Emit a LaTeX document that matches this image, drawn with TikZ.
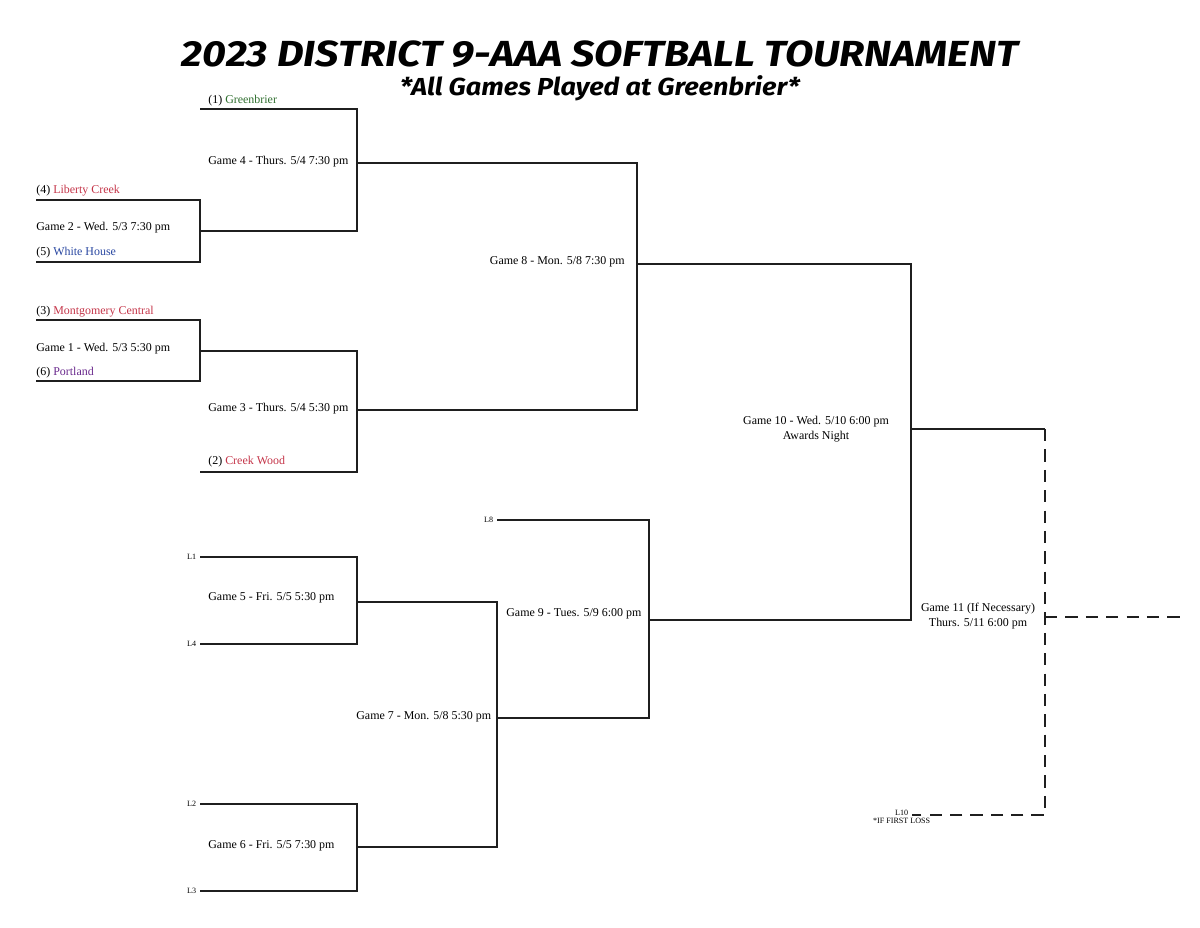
\documentclass[tikz,border=0pt]{standalone}
\usepackage{fontspec}
\setmainfont{Liberation Serif}
\newfontfamily\titlefont{Fira Sans}
\usetikzlibrary{positioning,calc}
\definecolor{teamgreen}{RGB}{46,110,46}
\definecolor{teamred}{RGB}{196,52,72}
\definecolor{teamblue}{RGB}{40,70,160}
\definecolor{teampurple}{RGB}{105,40,140}
\tikzset{
  bline/.style={line width=1.1pt,black!88},
  dline/.style={bline,dash pattern=on 7pt off 4.6pt},
  gamelbl/.style={font=\fontsize{6.8}{8.4}\selectfont,inner sep=0pt},
  teamlbl/.style={gamelbl,anchor=base west},
  losslbl/.style={font=\fontsize{4.6}{5.4}\selectfont,inner sep=0pt},
}

\begin{document}
\begin{tikzpicture}[x=0.02cm,y=-0.02cm]
  \useasboundingbox (0,0) rectangle (1200,927);
  % heading
  \node[font=\titlefont\bfseries\itshape\fontsize{24}{26}\selectfont,inner sep=0pt] (title) at (600,54)
    {\scalebox{0.98}[0.86]{2023 DISTRICT 9-AAA SOFTBALL TOURNAMENT}};
  \node[font=\titlefont\bfseries\itshape\fontsize{14}{16}\selectfont,inner sep=0pt] (subtitle) at (600,88)
    {\scalebox{1.1}[1]{*All Games Played at Greenbrier*}};

  % slot lines: name / left x / right x / y
  \foreach \nm/\xa/\xb/\yy in {greenbrier/200/357/109, liberty/36/200/200, whitehouse/36/200/262,
      montgomery/36/200/320, portland/36/200/381, creekwood/200/357/472,
      lone/200/357/557, lfour/200/357/644, ltwo/200/357/804, lthree/200/357/891,
      leight/497/649/520, lten/912/1045/815} {
    \coordinate (\nm-a) at (\xa,\yy);
    \coordinate (\nm-b) at (\xb,\yy);
  }
  % junctions where each game's winner line leaves its bracket
  \foreach \gm/\xx/\yy in {g1/200/351, g2/200/231, g3/357/410, g4/357/163, g8/637/264,
      g10/911/429, g5/357/602, g6/357/847, g7/497/718, g9/649/620, g11/1045/617} {
    \coordinate (\gm) at (\xx,\yy);
  }
  \coordinate (g11end) at (1180,617);

  % winners side
  \draw[bline] (liberty-a) -| (whitehouse-b) -- (whitehouse-a);
  \draw[bline] (montgomery-a) -| (portland-b) -- (portland-a);
  \draw[bline] (g2) -| (greenbrier-b) -- (greenbrier-a);
  \draw[bline] (g1) -| (creekwood-b) -- (creekwood-a);
  \draw[bline] (g4) -- (g4 -| g8) -- (g3 -| g8) -- (g3);
  \draw[bline] (g8) -- (g8 -| g10) -- (g9 -| g10) -- (g9);
  \draw[bline] (g10) -- (g10 -| g11);
  % losers side
  \draw[bline] (lone-a) -| (lfour-b) -- (lfour-a);
  \draw[bline] (ltwo-a) -| (lthree-b) -- (lthree-a);
  \draw[bline] (g5) -- (g5 -| g7) -- (g6 -| g7) -- (g6);
  \draw[bline] (g7) -| (leight-b) -- (leight-a);
  % if necessary
  \draw[dline] (g10 -| g11) -- (lten-b) -- (lten-a);
  \draw[dline] (g11) -- (g11end);

  % teams
  \node[teamlbl] (t1) at (208,103) {(1) \textcolor{teamgreen}{Greenbrier}};
  \node[teamlbl] (t4) at (36,193) {(4) \textcolor{teamred}{Liberty Creek}};
  \node[teamlbl] (t5) at (36,255) {(5) \textcolor{teamblue}{White House}};
  \node[teamlbl] (t3) at (36,314) {(3) \textcolor{teamred}{Montgomery Central}};
  \node[teamlbl] (t6) at (36,375) {(6) \textcolor{teampurple}{Portland}};
  \node[teamlbl] (t2) at (208,464) {(2) \textcolor{teamred}{Creek Wood}};
  % games
  \node[teamlbl] (lg2) at (36,230) {Game 2 - Wed. 5/3 7:30 pm};
  \node[teamlbl] (lg1) at (36,351) {Game 1 - Wed. 5/3 5:30 pm};
  \node[teamlbl] (lg4) at (208,164) {Game 4 - Thurs. 5/4 7:30 pm};
  \node[teamlbl] (lg3) at (208,411) {Game 3 - Thurs. 5/4 5:30 pm};
  \node[gamelbl,anchor=base east] (lg8) at (625,264) {Game 8 - Mon. 5/8 7:30 pm};
  \node[gamelbl,align=center] (lg10) at (816,429) {Game 10 - Wed. 5/10 6:00 pm\\Awards Night};
  \node[teamlbl] (lg5) at (208,600) {Game 5 - Fri. 5/5 5:30 pm};
  \node[teamlbl] (lg6) at (208,848) {Game 6 - Fri. 5/5 7:30 pm};
  \node[teamlbl] (lg7) at (356,719) {Game 7 - Mon. 5/8 5:30 pm};
  \node[teamlbl] (lg9) at (506,616) {Game 9 - Tues. 5/9 6:00 pm};
  \node[gamelbl,align=center] (lg11) at (978,616) {Game 11 (If Necessary)\\Thurs. 5/11 6:00 pm};
  % losers in
  \foreach \nm/\txt in {lone/L1, lfour/L4, ltwo/L2, lthree/L3, leight/L8} {
    \node[losslbl,anchor=east] (\nm-lbl) at ([xshift=-2pt]\nm-a) {\txt};
  }
  \node[losslbl,anchor=east] (lten-lbl) at ([xshift=-2pt,yshift=1pt]lten-a) {L10};
  \node[losslbl,below=1pt of lten-lbl] (firstloss) {*IF FIRST LOSS};
\end{tikzpicture}
\end{document}
